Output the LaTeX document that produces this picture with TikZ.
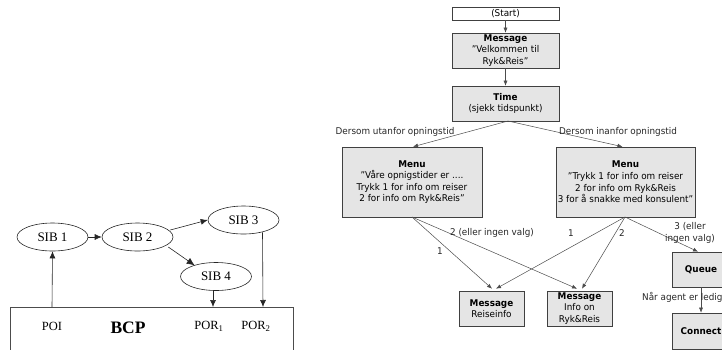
\documentclass[tikz,border=0pt]{standalone}
\usepackage{fontspec}
\setmainfont{Liberation Serif}
\newfontfamily\flowfont[FakeStretch=0.95]{DejaVu Sans}
\usetikzlibrary{shapes.geometric,arrows.meta,calc}

\begin{document}
\begin{tikzpicture}[x=1pt,y=-1pt,
  sib/.style={ellipse,draw=black!85,line width=0.6pt,minimum width=71pt,minimum height=28pt,inner sep=0pt,
    font=\fontsize{13}{15}\selectfont},
  sibarrow/.style={draw=black!85,line width=0.6pt,-{Latex[length=7pt,width=6pt]}},
  porlabel/.style={font=\fontsize{12.5}{14}\selectfont,inner sep=0pt},
  flowbox/.style={draw=black!75,line width=0.6pt,fill=black!10,align=center,inner sep=0pt,
    font=\flowfont\fontsize{9.3}{11.6}\selectfont},
  flowline/.style={draw=black!70,line width=0.5pt,-{Latex[length=5pt,width=4pt]}},
  flowlabel/.style={font=\flowfont\fontsize{9.3}{12}\selectfont,inner sep=0pt,align=center,text=black!85},
]
\useasboundingbox (0,0) rectangle (722,349);

% ---------- IN model: SIB chain on top of the BCP ----------
\node[sib] (sib1) at (52.5,237) {SIB 1};
\node[sib] (sib2) at (137.5,237) {SIB 2};
\node[sib] (sib3) at (243.5,220) {SIB 3};
\node[sib] (sib4) at (216,276.5) {SIB 4};

% BCP plane (open at the bottom)
\draw[draw=black!70,line width=0.6pt] (10,352) -- (10,307) -- (293,307) -- (293,352);
\coordinate (poi) at (52,307);
\coordinate (por1) at (213,307);
\coordinate (por2) at (263,307);

\node[porlabel] (poitext) at (52,326) {POI};
\node[porlabel,font=\bfseries\fontsize{17.5}{20}\selectfont] (bcp) at (128,328) {BCP};
\node[porlabel] (por1text) at (209,326) {POR\textsubscript{1}};
\node[porlabel] (por2text) at (256,326) {POR\textsubscript{2}};

\draw[sibarrow] (poi) -- (sib1.south);
\draw[sibarrow] (sib1.east) -- (sib2.west);
\draw[sibarrow] ($(sib2.east)+(-3,-7)$) -- ($(sib3.west)+(0,0)$);
\draw[sibarrow,-{Latex[length=8pt,width=7pt]}] ($(sib2.east)+(-5,10)$) -- ($(sib4.north west)+(4,-1)$);
\draw[sibarrow] ($(sib4.south)+(-3,0)$) -- (por1);
\draw[sibarrow] ($(sib3.south)+(19,-2)$) -- (por2);

% ---------- Call flow ----------
\node[flowbox,fill=white,minimum width=107pt,minimum height=13pt] (start) at (505.5,13.5) {(Start)};
\node[flowbox,minimum width=107pt,minimum height=35pt] (welcome) at (505.5,50.5)
  {\textbf{Message}\\”Velkommen til\\Ryk\&Reis”};
\node[flowbox,minimum width=107pt,minimum height=35pt] (time) at (505.5,103.5)
  {\textbf{Time}\\(sjekk tidspunkt)};
\node[flowbox,minimum width=140pt,minimum height=70pt] (menuclosed) at (412,182)
  {\textbf{Menu}\\”Våre opnigstider er ....\\Trykk 1 for info om reiser\\2 for info om Ryk\&Reis”};
\node[flowbox,minimum width=139pt,minimum height=70pt] (menuopen) at (625.5,182)
  {\textbf{Menu}\\”Trykk 1 for info om reiser\\2 for info om Ryk\&Reis\\3 for å snakke med konsulent”};
\node[flowbox,minimum width=65pt,minimum height=35pt] (travel) at (491.5,308.5)
  {\textbf{Message}\\Reiseinfo};
\node[flowbox,minimum width=65pt,minimum height=35pt] (about) at (579.5,308.5)
  {\textbf{Message}\\Info on\\Ryk\&Reis};
\node[flowbox,minimum width=58pt,minimum height=35pt] (queue) at (701,269.5) {\textbf{Queue}};
\node[flowbox,minimum width=58pt,minimum height=36pt] (connect) at (701,331) {\textbf{Connect}};

\coordinate (timefoot) at (508,121);
\coordinate (closedfoot) at (412,217);
\coordinate (openfoot) at (625,217);

\draw[flowline] (start) -- (welcome);
\draw[flowline] (welcome) -- (time);
\draw[flowline] (timefoot) -- ($(menuclosed.north)+(1,0)$);
\draw[flowline] (timefoot) -- ($(menuopen.north)+(-3,0)$);
\node[flowlabel] (lblclosed) at (395,132) {Dersom utanfor opningstid};
\node[flowlabel] (lblopen) at (618,132) {Dersom inanfor opningstid};

\draw[flowline] (closedfoot) -- ($(travel.north)+(0.5,-2)$);
\draw[flowline] (closedfoot) -- ($(about.north)+(-2.5,-2)$);
\draw[flowline] (openfoot) -- ($(travel.north)+(4.5,-2)$);
\draw[flowline] (openfoot) -- ($(about.north)+(2.5,-2)$);
\draw[flowline] (openfoot) -- ($(queue.north)+(-3,0)$);
\draw[flowline] (queue) -- (connect);

\node[flowlabel] (lbl1a) at (440,251) {1};
\node[flowlabel] (lbl2a) at (492,233) {2 (eller ingen valg)};
\node[flowlabel] (lbl1b) at (571,233) {1};
\node[flowlabel] (lbl2b) at (622,233) {2};
\node[flowlabel] (lbl3b) at (690,232.5) {3 (eller\\ingen valg)};
\node[flowlabel,anchor=west] (lblagent) at (642,297) {Når agent er ledig};
\end{tikzpicture}
\end{document}
